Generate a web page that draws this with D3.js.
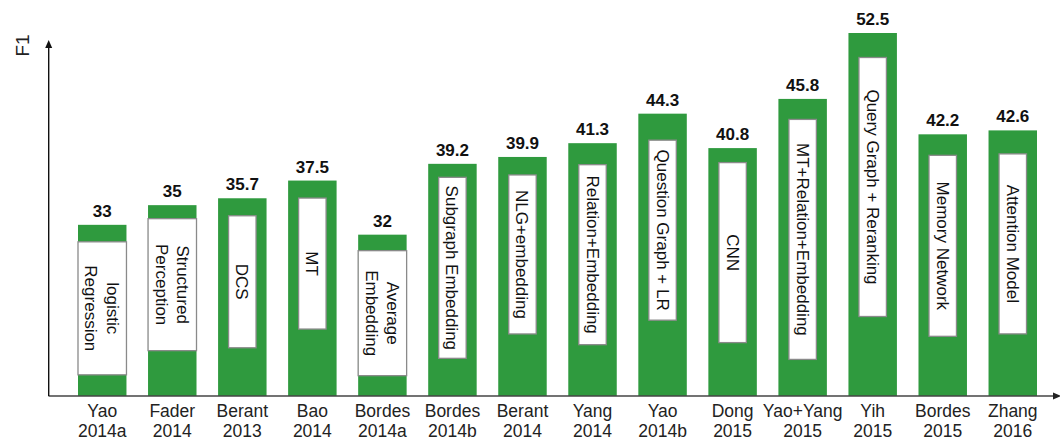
<!DOCTYPE html>
<meta charset="utf-8">
<style>
  html, body { margin: 0; padding: 0; background: #fff; overflow: hidden; }
  text { font-family: "Liberation Sans", Arial, Helvetica, sans-serif; }
  .val { font-weight: bold; font-size: 17px; fill: #111; }
  .xlab { font-size: 17.5px; fill: #222; }
  .inner { font-size: 17px; fill: #111; }
  .box { fill: #fff; stroke: #8a8a8a; stroke-width: 1.3px; }
  .bar { fill: #2f9a3e; }
</style>
<body>
<script src="https://cdn.jsdelivr.net/npm/d3@7"></script>
<script>

  var width = 1060, height = 437;

  // data
  var systems = ["Yao\n2014a", "Fader\n2014", "Berant\n2013", "Bao\n2014", "Bordes\n2014a",
                 "Bordes\n2014b", "Berant\n2014", "Yang\n2014", "Yao\n2014b", "Dong\n2015",
                 "Yao+Yang\n2015", "Yih\n2015", "Bordes\n2015", "Zhang\n2016"];
  var f1 = [33, 35, 35.7, 37.5, 32, 39.2, 39.9, 41.3, 44.3, 40.8, 45.8, 52.5, 42.2, 42.6];
  var methods = ["logistic\nRegression", "Structured\nPerception", "DCS", "MT", "Average\nEmbedding",
                 "Subgraph Embedding", "NLG+embedding", "Relation+Embedding", "Question Graph + LR", "CNN",
                 "MT+Relation+Embedding", "Query Graph + Reranking", "Memory Network", "Attention Model"];

  // white label boxes: gap below bar top and box length (px)
  var boxGap = [17, 13.5, 17.5, 17.5, 16, 13.5, 18, 21.5, 26.5, 14.5, 20.5, 24.5, 21, 23.5];
  var boxLen = [133, 132, 132, 131, 125, 181, 159, 180, 180, 180, 240, 259, 181, 180];

  var svg = d3.select("body").append("svg")
      .attr("width", width)
      .attr("height", height);

  var x = d3.scaleBand()
      .domain(d3.range(systems.length))
      .range([78, 1037])
      .paddingInner(0.308)
      .paddingOuter(0);

  var y = d3.scaleLinear()
      .domain([15.6, 52.5])
      .range([396, 33]);

  var bw = x.bandwidth();

  /* bars */
  var g = svg.selectAll(".col")
      .data(f1)
      .enter().append("g")
      .attr("class", "col");

  g.append("rect")
      .attr("class", "bar")
      .attr("x", (d, i) => x(i))
      .attr("y", d => y(d))
      .attr("width", bw)
      .attr("height", d => y.range()[0] - y(d));

  g.append("text")
      .attr("class", "val")
      .attr("text-anchor", "middle")
      .attr("x", (d, i) => x(i) + bw / 2)
      .attr("y", d => y(d) - 8)
      .text(d => d);

  /* label boxes */
  g.each(function(d, i) {
      var lines = methods[i].split("\n");
      var two = lines.length > 1;
      var bx = two ? x(i) : x(i) + 10.5;
      var bwid = two ? bw : bw - 21;
      var by = y(d) + boxGap[i];
      var sel = d3.select(this);
      sel.append("rect")
          .attr("class", "box")
          .attr("x", bx)
          .attr("y", by)
          .attr("width", bwid)
          .attr("height", boxLen[i]);
      var cx = bx + bwid / 2, cy = by + boxLen[i] / 2;
      var t = sel.append("text")
          .attr("class", "inner")
          .attr("text-anchor", "middle")
          .attr("transform", `translate(${cx},${cy}) rotate(90)`);
      lines.forEach(function(l, k) {
          t.append("tspan")
              .attr("x", 0)
              .attr("y", (k - (lines.length - 1) / 2) * 21.5 + 6)
              .text(l);
      });
  });

  /* x labels */
  svg.selectAll(".xlab")
      .data(systems)
      .enter().append("text")
      .attr("class", "xlab")
      .attr("text-anchor", "middle")
      .attr("transform", (d, i) => `translate(${x(i) + bw / 2},416.7)`)
      .each(function(d) {
          var t = d3.select(this);
          d.split("\n").forEach(function(l, k) {
              t.append("tspan").attr("x", 0).attr("y", k * 20.5).text(l);
          });
      });

  /* axes */
  svg.append("line")
      .attr("x1", 48.5).attr("x2", 1055)
      .attr("y1", 396).attr("y2", 396)
      .attr("stroke", "#444").attr("stroke-width", 1.3);
  svg.append("path")
      .attr("d", "M1061,396 L1053,392.5 L1053,399.5 Z")
      .attr("fill", "#222");

  svg.append("line")
      .attr("x1", 48.7).attr("x2", 48.7)
      .attr("y1", 396).attr("y2", 46)
      .attr("stroke", "#111").attr("stroke-width", 1.4);
  svg.append("path")
      .attr("d", "M48.7,40 L45.2,48 L52.2,48 Z")
      .attr("fill", "#111");

  svg.append("text")
      .attr("transform", "translate(29.3,45.5) rotate(-90)")
      .attr("text-anchor", "middle")
      .style("font-size", "19px")
      .style("fill", "#222")
      .text("F1");

</script>
</body>
